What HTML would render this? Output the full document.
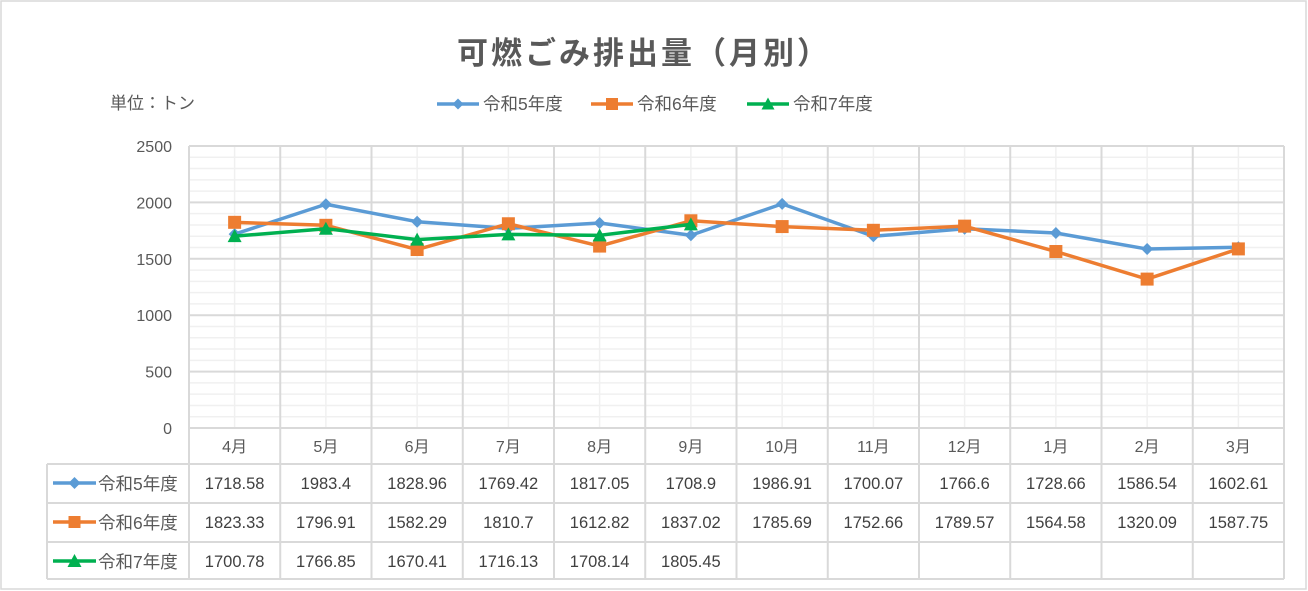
<!DOCTYPE html>
<html><head><meta charset="utf-8"><style>
html,body{margin:0;padding:0;background:#fff}
svg{display:block;font-family:"Liberation Sans","Noto Sans CJK JP",sans-serif}
</style></head><body>
<svg id="s" width="1308" height="591" xmlns="http://www.w3.org/2000/svg">
<rect x="1" y="1" width="1305" height="588" fill="#fff" stroke="#d9d9d9" stroke-width="1.5"/>
<text x="644" y="64" text-anchor="middle" font-size="31" font-weight="bold" fill="#595959" letter-spacing="3">可燃ごみ排出量（月別）</text>
<text x="110" y="109" font-size="17" fill="#595959">単位：トン</text>
<g id="leg"></g>
<g id="grid"></g>
<g id="ser"></g>
<g id="tab"></g>
</svg>
<script>
const NS="http://www.w3.org/2000/svg";
function el(p,t,a,txt){const e=document.createElementNS(NS,t);for(const k in a)e.setAttribute(k,a[k]);if(txt!==undefined)e.textContent=txt;document.getElementById(p).appendChild(e);return e;}
const L=189,R=1284,T=146,B=428,cw=(R-L)/12;
const Y=v=>B-v*(B-T)/2500;
for(let v=100;v<2500;v+=100){if(v%500)el("grid","line",{x1:L,x2:R,y1:Y(v),y2:Y(v),stroke:"#f0f0f0","stroke-width":1.5});}
for(let i=0;i<12;i++){const x=L+cw*(i+0.5);el("grid","line",{x1:x,x2:x,y1:T,y2:B,stroke:"#f0f0f0","stroke-width":1.5});}
for(let v=500;v<=2500;v+=500)el("grid","line",{x1:L,x2:R,y1:Y(v),y2:Y(v),stroke:"#d9d9d9","stroke-width":2});
for(let v=0;v<=2500;v+=500)el("grid","text",{x:172,y:Y(v)+6,"text-anchor":"end","font-size":16,fill:"#595959"},v);
for(let i=0;i<=12;i++){const x=L+cw*i;el("grid","line",{x1:x,x2:x,y1:T,y2:579,stroke:"#d9d9d9","stroke-width":2});}
el("grid","line",{x1:L,x2:R,y1:B,y2:B,stroke:"#d9d9d9","stroke-width":2});
const rows=[464,503,542,579];
rows.forEach(y=>el("tab","line",{x1:47,x2:R,y1:y,y2:y,stroke:"#d9d9d9","stroke-width":2}));
el("tab","line",{x1:47,x2:47,y1:464,y2:579,stroke:"#d9d9d9","stroke-width":2});
const months=["4月","5月","6月","7月","8月","9月","10月","11月","12月","1月","2月","3月"];
months.forEach((m,i)=>el("tab","text",{x:L+cw*(i+0.5),y:452,"text-anchor":"middle","font-size":16,fill:"#595959"},m));
const data=[
["令和5年度","#5b9bd5","d",[1718.58,1983.4,1828.96,1769.42,1817.05,1708.9,1986.91,1700.07,1766.6,1728.66,1586.54,1602.61]],
["令和6年度","#ed7d31","s",[1823.33,1796.91,1582.29,1810.7,1612.82,1837.02,1785.69,1752.66,1789.57,1564.58,1320.09,1587.75]],
["令和7年度","#00b050","t",[1700.78,1766.85,1670.41,1716.13,1708.14,1805.45]]];
function marker(g,k,x,y,c,sz){
 if(k=="d")el(g,"polygon",{points:`${x},${y-sz} ${x+sz},${y} ${x},${y+sz} ${x-sz},${y}`,fill:c});
 else if(k=="s")el(g,"rect",{x:x-sz,y:y-sz,width:2*sz,height:2*sz,fill:c});
 else el(g,"polygon",{points:`${x},${y-sz-1} ${x+sz+1},${y+sz} ${x-sz-1},${y+sz}`,fill:c});
}
const legX=[437,591,747];
data.forEach((d,r)=>{
 const [name,c,k,vals]=d;
 const pts=vals.map((v,i)=>[L+cw*(i+0.5),Y(v)]);
 el("ser","polyline",{points:pts.map(p=>p.join(",")).join(" "),fill:"none",stroke:c,"stroke-width":3.5,"stroke-linejoin":"round"});
 pts.forEach(p=>marker("ser",k,p[0],p[1],c,k=="s"?6.5:6));
 vals.forEach((v,i)=>el("tab","text",{x:L+cw*(i+0.5),y:rows[r]+25,"text-anchor":"middle","font-size":16.5,fill:"#404040"},v));
 const ty=rows[r]+19;
 el("tab","line",{x1:53,x2:96,y1:ty,y2:ty,stroke:c,"stroke-width":3.5});
 marker("tab",k,74.5,ty,c,6);
 el("tab","text",{x:98,y:rows[r]+26,"font-size":17.5,fill:"#595959"},name);
 const lx=legX[r];
 el("leg","line",{x1:lx,x2:lx+42,y1:104,y2:104,stroke:c,"stroke-width":3.5});
 marker("leg",k,lx+21,104,c,k=="s"?6:5.5);
 el("leg","text",{x:lx+46,y:110,"font-size":17.5,fill:"#595959"},name);
});
</script>
</body></html>
